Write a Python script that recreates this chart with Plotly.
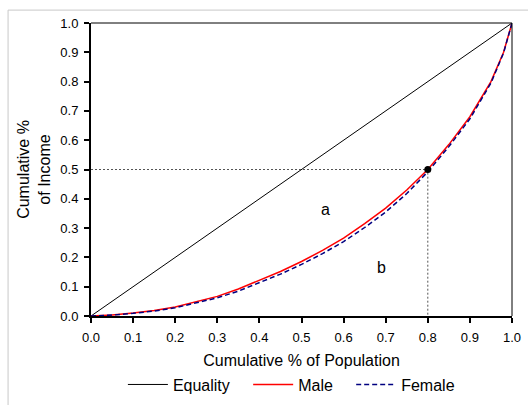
import plotly.graph_objects as go

pop = [0, 0.05, 0.1, 0.15, 0.2, 0.25, 0.3, 0.35, 0.4, 0.45, 0.5, 0.55, 0.6,
       0.65, 0.7, 0.75, 0.8, 0.85, 0.9, 0.95, 0.98, 1.0]
male = [0, 0.003, 0.01, 0.019, 0.031, 0.048, 0.067, 0.092, 0.121, 0.152, 0.186,
        0.224, 0.266, 0.315, 0.368, 0.43, 0.5, 0.585, 0.68, 0.8, 0.9, 1.0]
female = [0, 0.003, 0.009, 0.017, 0.028, 0.044, 0.062, 0.085, 0.113, 0.143, 0.176,
          0.213, 0.254, 0.302, 0.355, 0.418, 0.492, 0.578, 0.673, 0.795, 0.898, 1.0]
equality_x = [0, 1]
equality_y = [0, 1]
point_x = 0.8
point_y = 0.5
ticks = [round(i * 0.1, 1) for i in range(11)]

FONT = "Liberation Sans, Arial, sans-serif"
PAD = "\u00a0\u00a0\u00a0"

fig = go.Figure()
fig.add_trace(go.Scatter(x=equality_x, y=equality_y, mode="lines", name="Equality" + PAD,
                         line=dict(color="black", width=1)))
fig.add_trace(go.Scatter(x=pop, y=male, mode="lines", name="Male" + PAD,
                         line=dict(color="#ff0000", width=1.5)))
fig.add_trace(go.Scatter(x=pop, y=female, mode="lines", name="Female",
                         line=dict(color="#000080", width=1.5, dash="5px,3px")))
# reference dotted lines
fig.add_trace(go.Scatter(x=[0, point_x, point_x], y=[point_y, point_y, 0], mode="lines",
                         showlegend=False, hoverinfo="skip",
                         line=dict(color="#555555", width=1, dash="2px,2px")))
fig.add_trace(go.Scatter(x=[point_x], y=[point_y], mode="markers", showlegend=False,
                         marker=dict(color="black", size=7)))

fig.add_annotation(x=0.556, y=0.362, text="a", showarrow=False,
                   font=dict(size=16, color="black", family=FONT))
fig.add_annotation(x=0.689, y=0.167, text="b", showarrow=False,
                   font=dict(size=16, color="black", family=FONT))

# top / right frame lines (thin)
fig.add_shape(type="line", xref="paper", yref="paper", x0=0, x1=1, y0=1, y1=1,
              line=dict(color="black", width=1))
fig.add_shape(type="line", xref="paper", yref="paper", x0=1, x1=1, y0=0, y1=1,
              line=dict(color="black", width=1))
# outer light-grey border (top and left)
fig.add_shape(type="line", xref="paper", yref="paper", x0=-0.197, x1=1.04, y0=1.044, y1=1.044,
              line=dict(color="#c8c8c8", width=1))
fig.add_shape(type="line", xref="paper", yref="paper", x0=-0.197, x1=-0.197, y0=-0.31, y1=1.044,
              line=dict(color="#c8c8c8", width=1))

axis_common = dict(showgrid=False, zeroline=False, showline=True, linecolor="black",
                   linewidth=2, ticks="outside", ticklen=5, tickwidth=2, tickcolor="black",
                   tickvals=ticks, tickformat=".1f", ticklabelstandoff=3, automargin=False,
                   tickfont=dict(size=13, color="black", family=FONT))

fig.update_xaxes(range=[0, 1], **axis_common,
                 title=dict(text="Cumulative % of Population", standoff=11,
                            font=dict(size=16, color="black", family=FONT)))
fig.update_yaxes(range=[0, 1], **axis_common,
                 title=dict(text="Cumulative %<br>of Income", standoff=6,
                            font=dict(size=16, color="black", family=FONT)))

fig.update_layout(
    width=528, height=405,
    margin=dict(l=91, r=16, t=23, b=89, autoexpand=False),
    paper_bgcolor="white", plot_bgcolor="white",
    font=dict(family=FONT, color="black"),
    legend=dict(orientation="h", x=0.476, xanchor="center", y=-0.176, yanchor="top",
                font=dict(size=16, color="black", family=FONT),
                itemwidth=40, tracegroupgap=0, bgcolor="rgba(0,0,0,0)"),
)

fig.write_html("out.html", config={"displayModeBar": False},
               post_script="document.body.style.margin='0';")
